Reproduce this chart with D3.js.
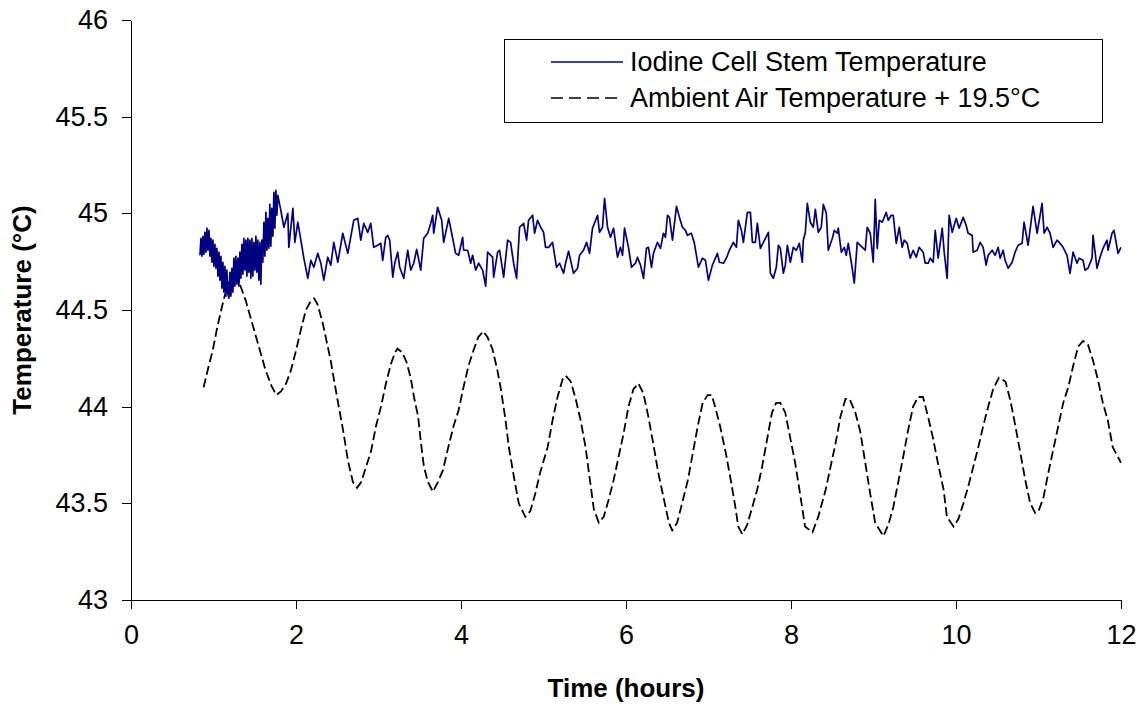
<!DOCTYPE html>
<html>
<head>
<meta charset="utf-8">
<script src="https://cdn.jsdelivr.net/npm/d3@7"></script>
<style>
  html, body { margin: 0; padding: 0; background: #fff; }
  svg { display: block; font-family: "Liberation Sans", Arial, sans-serif; }
</style>
</head>
<body>
<svg id="chart" width="1143" height="708"></svg>
<script>
// ---------- data (hours, °C) ----------
const xTicks = [0, 2, 4, 6, 8, 10, 12];
const yTicks = [43, 43.5, 44, 44.5, 45, 45.5, 46];
const xTitle = "Time (hours)";
const yTitle = "Temperature (°C)";
const seriesNames = ["Iodine Cell Stem Temperature", "Ambient Air Temperature + 19.5°C"];

// Iodine cell stem temperature: [hours, °C]
const stemTemp = [
[0.836,44.783],[0.848,44.871],[0.860,44.778],[0.872,44.881],[0.884,44.788],[0.896,44.902],[0.908,44.799],[0.920,44.923],
[0.932,44.809],[0.945,44.912],[0.957,44.778],[0.969,44.871],[0.981,44.747],[0.993,44.861],[1.005,44.726],[1.017,44.840],
[1.029,44.716],[1.041,44.819],[1.054,44.675],[1.066,44.799],[1.078,44.654],[1.090,44.778],[1.102,44.613],[1.114,44.747],
[1.126,44.592],[1.138,44.726],[1.150,44.571],[1.162,44.706],[1.175,44.582],[1.187,44.561],[1.199,44.695],[1.211,44.571],
[1.223,44.716],[1.235,44.592],[1.247,44.768],[1.259,44.623],[1.271,44.778],[1.284,44.633],[1.296,44.768],[1.308,44.623],
[1.320,44.799],[1.332,44.664],[1.344,44.840],[1.356,44.685],[1.368,44.871],[1.380,44.706],[1.393,44.861],[1.405,44.675],
[1.417,44.871],[1.429,44.695],[1.441,44.861],[1.453,44.664],[1.465,44.871],[1.477,44.675],[1.489,44.850],[1.502,44.706],
[1.514,44.881],[1.526,44.695],[1.538,44.861],[1.550,44.654],[1.562,44.850],[1.574,44.633],[1.586,44.861],[1.598,44.747],
[1.611,44.954],[1.623,44.778],[1.635,45.005],[1.647,44.809],[1.659,44.974],[1.671,44.819],[1.683,45.046],[1.695,44.830],
[1.707,45.026],[1.720,44.881],[1.732,45.108],[1.744,44.923],[1.756,45.119],[1.768,44.990],[1.780,45.093],
[1.816,45.015],[1.853,44.928],[1.901,45.000],[1.913,44.824],[1.962,45.026],[1.986,44.850],[2.022,44.954],[2.059,44.861],
[2.095,44.768],[2.143,44.664],[2.180,44.757],[2.216,44.721],[2.264,44.793],[2.301,44.742],[2.337,44.654],[2.385,44.773],
[2.422,44.732],[2.458,44.850],[2.507,44.747],[2.567,44.897],[2.628,44.793],[2.700,44.964],[2.749,44.974],[2.785,44.861],
[2.821,44.948],[2.870,44.902],[2.906,44.948],[2.942,44.824],[2.991,44.835],[3.027,44.845],[3.051,44.757],[3.088,44.876],
[3.112,44.886],[3.136,44.861],[3.173,44.670],[3.197,44.742],[3.233,44.799],[3.257,44.721],[3.306,44.664],[3.354,44.809],
[3.391,44.706],[3.427,44.742],[3.463,44.814],[3.512,44.706],[3.548,44.871],[3.596,44.897],[3.633,44.948],[3.657,44.990],
[3.669,44.897],[3.717,45.031],[3.766,44.964],[3.790,44.850],[3.851,44.974],[3.887,44.897],[3.935,44.793],[3.972,44.783],
[4.020,44.876],[4.032,44.809],[4.081,44.809],[4.117,44.742],[4.141,44.783],[4.178,44.706],[4.214,44.742],[4.262,44.706],
[4.299,44.623],[4.323,44.799],[4.383,44.773],[4.396,44.670],[4.444,44.799],[4.468,44.809],[4.517,44.670],[4.565,44.861],
[4.601,44.850],[4.638,44.742],[4.674,44.664],[4.710,44.928],[4.759,44.948],[4.795,44.861],[4.819,44.964],[4.868,44.990],
[4.892,44.897],[4.928,44.964],[4.965,44.928],[5.001,44.902],[5.025,44.824],[5.062,44.824],[5.110,44.850],[5.158,44.721],
[5.195,44.742],[5.243,44.690],[5.267,44.742],[5.304,44.804],[5.364,44.690],[5.413,44.716],[5.437,44.783],[5.485,44.809],
[5.522,44.850],[5.558,44.793],[5.594,44.923],[5.655,44.990],[5.679,44.902],[5.715,44.928],[5.740,45.077],[5.776,44.928],
[5.812,44.876],[5.849,44.923],[5.897,44.773],[5.933,44.824],[5.958,44.783],[5.982,44.923],[6.030,44.824],[6.067,44.721],
[6.115,44.742],[6.139,44.773],[6.176,44.732],[6.212,44.664],[6.248,44.819],[6.272,44.824],[6.309,44.721],[6.333,44.793],
[6.381,44.850],[6.418,44.819],[6.454,44.897],[6.478,44.876],[6.503,44.990],[6.527,44.979],[6.563,44.861],[6.612,45.036],
[6.648,44.979],[6.684,44.928],[6.720,44.912],[6.745,44.886],[6.793,44.897],[6.829,44.845],[6.878,44.721],[6.926,44.768],
[6.963,44.757],[6.999,44.654],[7.047,44.732],[7.072,44.757],[7.108,44.793],[7.132,44.747],[7.181,44.742],[7.217,44.768],
[7.253,44.809],[7.302,44.850],[7.338,44.824],[7.362,44.964],[7.399,44.912],[7.423,44.850],[7.471,45.005],[7.508,45.005],
[7.532,44.850],[7.568,44.850],[7.592,44.948],[7.629,44.819],[7.665,44.850],[7.726,44.902],[7.750,44.690],[7.786,44.664],
[7.822,44.721],[7.847,44.835],[7.871,44.819],[7.907,44.690],[7.931,44.732],[7.956,44.835],[7.992,44.747],[8.028,44.824],
[8.065,44.809],[8.101,44.845],[8.137,44.747],[8.149,44.861],[8.174,44.902],[8.198,45.052],[8.234,44.954],[8.270,44.928],
[8.295,45.021],[8.331,44.902],[8.367,44.928],[8.392,45.046],[8.428,45.000],[8.452,44.809],[8.501,44.871],[8.525,44.912],
[8.561,44.897],[8.573,44.923],[8.610,44.799],[8.646,44.824],[8.670,44.783],[8.694,44.845],[8.731,44.747],[8.767,44.639],
[8.803,44.850],[8.864,44.824],[8.900,44.809],[8.924,44.928],[8.961,44.897],[8.997,44.747],[9.021,45.072],[9.045,44.819],
[9.070,44.964],[9.106,44.954],[9.130,44.979],[9.154,45.005],[9.179,44.964],[9.215,44.990],[9.239,44.990],[9.276,44.845],
[9.312,44.928],[9.348,44.824],[9.372,44.861],[9.409,44.845],[9.445,44.768],[9.481,44.809],[9.518,44.773],[9.554,44.824],
[9.602,44.799],[9.627,44.742],[9.663,44.742],[9.687,44.768],[9.724,44.747],[9.748,44.912],[9.784,44.768],[9.833,44.923],
[9.857,44.799],[9.893,44.664],[9.917,44.990],[9.954,44.902],[10.002,44.974],[10.038,44.923],[10.087,44.979],[10.123,44.938],
[10.147,44.897],[10.196,44.886],[10.208,44.799],[10.256,44.809],[10.293,44.850],[10.329,44.824],[10.365,44.732],[10.390,44.783],
[10.438,44.809],[10.474,44.783],[10.511,44.824],[10.535,44.768],[10.571,44.809],[10.595,44.757],[10.632,44.716],[10.680,44.747],
[10.716,44.799],[10.753,44.835],[10.801,44.845],[10.825,44.954],[10.874,44.835],[10.934,45.036],[10.983,44.897],[11.043,45.052],
[11.068,44.897],[11.104,44.928],[11.140,44.897],[11.177,44.824],[11.225,44.861],[11.261,44.845],[11.298,44.824],[11.346,44.783],
[11.382,44.690],[11.419,44.799],[11.467,44.742],[11.492,44.768],[11.540,44.757],[11.564,44.706],[11.600,44.716],[11.649,44.768],
[11.661,44.886],[11.709,44.716],[11.746,44.773],[11.782,44.819],[11.830,44.861],[11.843,44.809],[11.891,44.897],[11.915,44.912],
[11.964,44.793],[12.000,44.824]
];

// Ambient air temperature + 19.5 °C: [hours, °C]
const ambientTemp = [
[0.88,44.10],[0.93,44.19],[0.99,44.29],[1.05,44.42],[1.11,44.53],[1.17,44.63],[1.24,44.68],[1.30,44.67],[1.33,44.62],
[1.39,44.55],[1.45,44.46],[1.51,44.37],[1.57,44.28],[1.63,44.19],[1.70,44.11],[1.76,44.06],[1.82,44.08],[1.88,44.12],
[1.94,44.19],[2.00,44.29],[2.06,44.40],[2.12,44.50],[2.17,44.54],[2.22,44.56],[2.26,44.53],[2.32,44.44],[2.36,44.36],
[2.42,44.24],[2.46,44.14],[2.51,44.02],[2.57,43.88],[2.63,43.72],[2.69,43.61],[2.74,43.58],[2.79,43.61],[2.85,43.69],
[2.91,43.77],[2.97,43.90],[3.03,44.00],[3.09,44.12],[3.15,44.22],[3.20,44.28],[3.23,44.30],[3.29,44.28],[3.34,44.23],
[3.39,44.15],[3.43,44.05],[3.48,43.95],[3.51,43.83],[3.55,43.69],[3.60,43.61],[3.66,43.56],[3.72,43.61],[3.78,43.67],
[3.84,43.78],[3.91,43.90],[3.97,43.98],[4.03,44.10],[4.09,44.21],[4.15,44.29],[4.21,44.36],[4.27,44.39],[4.32,44.36],
[4.38,44.30],[4.44,44.19],[4.48,44.10],[4.54,43.93],[4.58,43.79],[4.64,43.64],[4.70,43.50],[4.78,43.43],[4.84,43.46],
[4.90,43.55],[4.96,43.66],[5.05,43.79],[5.11,43.93],[5.17,44.05],[5.23,44.14],[5.27,44.16],[5.33,44.13],[5.39,44.04],
[5.45,43.93],[5.51,43.79],[5.55,43.66],[5.61,43.47],[5.67,43.40],[5.73,43.43],[5.79,43.52],[5.85,43.62],[5.91,43.74],
[5.97,43.86],[6.03,44.00],[6.09,44.09],[6.15,44.12],[6.21,44.07],[6.27,43.95],[6.33,43.81],[6.39,43.66],[6.45,43.54],
[6.52,43.40],[6.56,43.36],[6.62,43.40],[6.68,43.50],[6.75,43.62],[6.81,43.76],[6.87,43.90],[6.93,44.02],[6.99,44.06],
[7.04,44.06],[7.08,44.00],[7.14,43.90],[7.21,43.76],[7.27,43.62],[7.33,43.47],[7.36,43.38],[7.41,43.34],[7.47,43.39],
[7.53,43.48],[7.59,43.57],[7.65,43.69],[7.71,43.83],[7.77,43.97],[7.82,44.02],[7.87,44.02],[7.93,43.97],[7.99,43.84],
[8.05,43.71],[8.11,43.55],[8.17,43.38],[8.26,43.35],[8.33,43.43],[8.42,43.57],[8.48,43.69],[8.54,43.81],[8.60,43.95],
[8.66,44.04],[8.71,44.04],[8.78,43.97],[8.84,43.87],[8.90,43.71],[8.96,43.55],[9.02,43.40],[9.12,43.33],[9.18,43.39],
[9.24,43.48],[9.30,43.61],[9.36,43.74],[9.42,43.88],[9.48,44.00],[9.54,44.05],[9.60,44.05],[9.66,43.95],[9.72,43.84],
[9.78,43.71],[9.85,43.57],[9.89,43.43],[9.97,43.38],[10.03,43.42],[10.09,43.50],[10.15,43.59],[10.21,43.69],[10.27,43.79],
[10.33,43.90],[10.39,44.00],[10.45,44.09],[10.52,44.15],[10.60,44.13],[10.66,44.03],[10.72,43.90],[10.78,43.76],[10.84,43.62],
[10.90,43.50],[10.96,43.45],[11.00,43.46],[11.06,43.53],[11.12,43.66],[11.18,43.78],[11.24,43.90],[11.30,44.02],[11.36,44.10],
[11.42,44.21],[11.48,44.31],[11.54,44.34],[11.60,44.32],[11.66,44.24],[11.72,44.14],[11.78,44.02],[11.84,43.93],[11.90,43.79],
[12.00,43.71]
];

// ---------- drawing ----------
const svg = d3.select("#chart");
const x = d3.scaleLinear().domain([0, 12]).range([131, 1121]);
const y = d3.scaleLinear().domain([43, 46]).range([600, 20]);
const fontSize = 27;

const xAxis = d3.axisBottom(x).tickValues(xTicks).tickSize(9).tickSizeOuter(0).tickPadding(16)
  .tickFormat(d => String(d));
const yAxis = d3.axisLeft(y).tickValues(yTicks).tickSize(9).tickSizeOuter(0).tickPadding(14)
  .tickFormat(d => String(d));

const gx = svg.append("g").attr("transform", `translate(0,${y(43)})`).call(xAxis);
const gy = svg.append("g").attr("transform", `translate(${x(0)},0)`).call(yAxis);
[gx, gy].forEach(g => {
  g.selectAll("path, line").attr("stroke", "#000").attr("stroke-width", 1.2).attr("shape-rendering", "crispEdges");
  g.selectAll("text").attr("font-size", fontSize).attr("fill", "#000")
    .attr("font-family", "'Liberation Sans', Arial, sans-serif");
});

// axis titles
svg.append("text")
  .attr("x", (x(0) + x(12)) / 2).attr("y", 697)
  .attr("text-anchor", "middle").attr("font-weight", "bold").attr("font-size", 26)
  .text(xTitle);
svg.append("text")
  .attr("transform", `translate(31,${(y(43) + y(46)) / 2}) rotate(-90)`)
  .attr("text-anchor", "middle").attr("font-weight", "bold").attr("font-size", 26)
  .text(yTitle);

// lines
const line = d3.line().x(d => x(d[0])).y(d => y(d[1]));
svg.append("path").datum(ambientTemp)
  .attr("d", line).attr("fill", "none").attr("stroke", "#000")
  .attr("stroke-width", 1.8).attr("stroke-dasharray", "9,4");
svg.append("path").datum(stemTemp)
  .attr("d", line).attr("fill", "none").attr("stroke", "#000080")
  .attr("stroke-width", 1.7).attr("stroke-linejoin", "round");

// legend
const lg = svg.append("g");
lg.append("rect").attr("x", 504.5).attr("y", 39.5).attr("width", 598).attr("height", 83)
  .attr("fill", "#fff").attr("stroke", "#000").attr("stroke-width", 1);
const legendItems = [
  { name: seriesNames[0], color: "#000080", dash: null, yy: 62 },
  { name: seriesNames[1], color: "#000", dash: "12,6", yy: 98 }
];
legendItems.forEach(it => {
  lg.append("line").attr("x1", 551).attr("x2", 623).attr("y1", it.yy).attr("y2", it.yy)
    .attr("stroke", it.color).attr("stroke-width", 1.6)
    .attr("stroke-dasharray", it.dash);
  lg.append("text").attr("x", 630).attr("y", it.yy).attr("dy", "0.35em")
    .attr("font-size", fontSize).attr("fill", "#000").text(it.name);
});
</script>
</body>
</html>
